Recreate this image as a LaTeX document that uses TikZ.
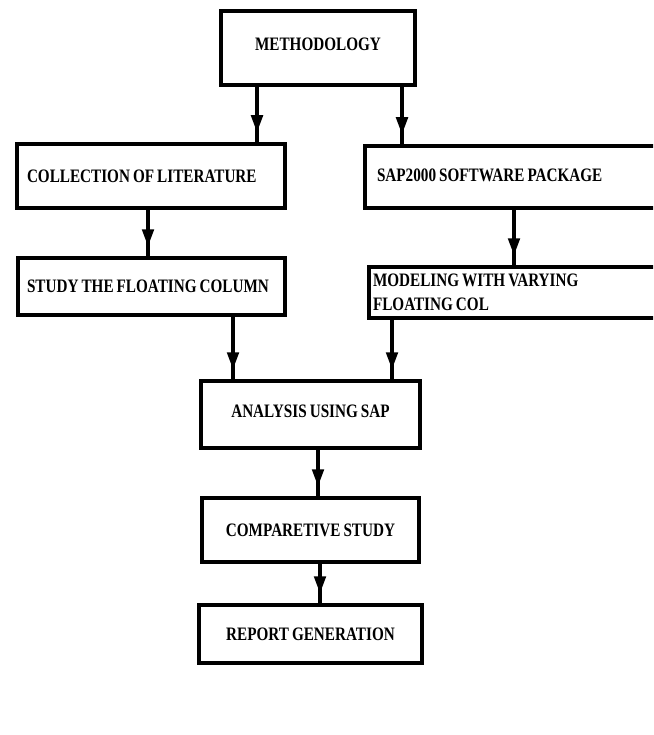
\documentclass[tikz,border=0pt]{standalone}
\usepackage{fontspec}
\setmainfont{Liberation Serif}[FakeStretch=0.8, WordSpace={0.8}]
\usetikzlibrary{arrows.meta,decorations.markings}
\tikzset{
  box/.style={draw, line width=3.5pt, rectangle, inner sep=0pt,
    font=\fontsize{19}{24}\selectfont\bfseries},
  arr/.style={line width=4.5pt, postaction={decorate},
    decoration={markings, mark=at position -9pt with {\arrow{Triangle[width=11pt,length=18pt]}}}},
}
\begin{document}
\begin{tikzpicture}[x=1pt,y=-1pt]
\useasboundingbox (0,0) rectangle (653,735);
\clip (0,0) rectangle (653,735);
\node[box, minimum width=194, minimum height=74] (meth) at (318,48) {\raisebox{7pt}{METHODOLOGY}};
\node[box, minimum width=268, minimum height=64, text width=248, align=flush left] (coll) at (151,176) {COLLECTION OF LITERATURE};
\node[box, minimum width=300, minimum height=62, text width=276, align=flush left] (sap) at (515,177) {\raisebox{4pt}{SAP2000 SOFTWARE PACKAGE}};
\node[box, minimum width=267, minimum height=57, text width=249, align=flush left] (study) at (151.5,286.5) {STUDY THE FLOATING COLUMN};
\node[box, minimum width=296, minimum height=51, text width=288, align=flush left] (model) at (517,292.5) {MODELING WITH VARYING\\FLOATING COL};
\node[box, minimum width=219, minimum height=67] (anal) at (310.5,414.5) {\raisebox{6pt}{ANALYSIS USING SAP}};
\node[box, minimum width=217, minimum height=64] (comp) at (310.5,530) {\raisebox{-6pt}{COMPARETIVE STUDY}};
\node[box, minimum width=223, minimum height=58] (rep) at (310.5,634) {REPORT GENERATION};
\draw[arr] (meth.south -| 257,0) -- (coll.north -| 257,0);
\draw[arr] (meth.south -| 402,0) -- (sap.north -| 402,0);
\draw[arr] (coll.south -| 148,0) -- (study.north -| 148,0);
\draw[arr] (sap.south -| 514,0) -- (model.north -| 514,0);
\draw[arr] (study.south -| 233,0) -- (anal.north -| 233,0);
\draw[arr] (model.south -| 392,0) -- (anal.north -| 392,0);
\draw[arr] (anal.south -| 318,0) -- (comp.north -| 318,0);
\draw[arr] (comp.south -| 320,0) -- (rep.north -| 320,0);
\end{tikzpicture}
\end{document}
